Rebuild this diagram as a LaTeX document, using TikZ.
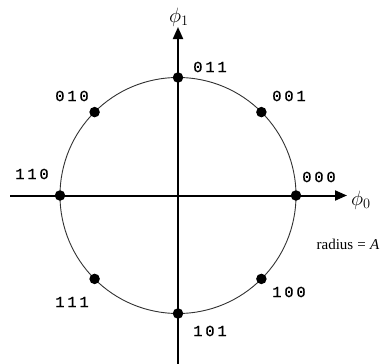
\documentclass[tikz,border=0pt]{standalone}
\usepackage{fontspec}
\setmainfont{Liberation Serif}
\newfontfamily\codefont[LetterSpace=18,FakeBold=0.6]{Liberation Mono}
\usetikzlibrary{arrows.meta}
\begin{document}
\begin{tikzpicture}[x=1pt,y=-1pt,
  axis/.style={line width=2pt,-{Triangle[length=12pt,width=10pt]}},
  dot/.style={circle,fill=black,inner sep=0pt,minimum size=10.5pt},
  lab/.style={font=\codefont\fontsize{15.5}{15.5}\selectfont,inner sep=0pt},
  philab/.style={font=\fontsize{20}{20}\selectfont,inner sep=0pt},
  ring/.style={line width=0.9pt,black!80}]
\useasboundingbox (0,0) rectangle (389,364);
\coordinate (O) at (178,195.5);
\coordinate (xl) at (10,195.5);
\coordinate (xr) at (347,195.5);
\coordinate (yb) at (178,364);
\coordinate (yt) at (178,27);
\draw[ring] (O) circle (118pt);
\draw[axis] (xl) -- (xr);
\draw[axis] (yb) -- (yt);
\node[dot] (d000) at (296,195.5) {};
\node[dot] (d001) at (261.4,112.1) {};
\node[dot] (d011) at (178,77.5) {};
\node[dot] (d010) at (94.6,112.1) {};
\node[dot] (d110) at (60,195.5) {};
\node[dot] (d111) at (94.6,278.9) {};
\node[dot] (d101) at (178,313.5) {};
\node[dot] (d100) at (261.4,278.9) {};
\node[lab] (l011) at (210,67) {011};
\node[lab] (l000) at (319,177) {000};
\node[lab] (l110) at (32,174) {110};
\node[lab] (l010) at (72,96) {010};
\node[lab] (l101) at (210,331) {101};
\node[lab] (l001) at (289,96) {001};
\node[lab] (l100) at (289,292) {100};
\node[lab] (l111) at (72,302) {111};
\node[philab] (phi1) at (179,17) {$\phi_1$};
\node[philab] (phi0) at (361,200) {$\phi_0$};
\node[inner sep=0pt,font=\fontsize{15}{15}\selectfont] (rad) at (348,244) {radius\;=\;\textit{A}};
\end{tikzpicture}
\end{document}
